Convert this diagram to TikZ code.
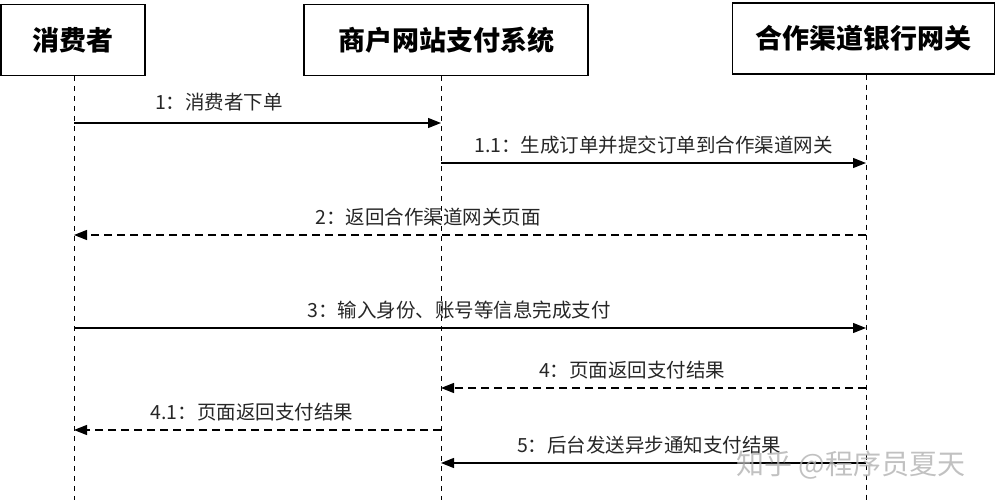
\documentclass[tikz,border=0pt]{standalone}
\usepackage{fontspec}
\usepackage{xcolor}
\usepackage{tikz}
\usetikzlibrary{calc,positioning,arrows.meta}
\newfontfamily\cjk{Noto Sans CJK SC}

\begin{document}
\begin{tikzpicture}[x=1pt,y=1pt,
		actor/.style={draw,line width=1.4pt,minimum height=71pt,inner sep=0pt,font=\cjk\bfseries\fontsize{27}{30}\selectfont},
		life/.style={line width=0.8pt,dash pattern=on 5pt off 5pt},
		msg/.style={line width=1.3pt,-{Triangle[length=13pt,width=10pt]}},
		ret/.style={msg,dash pattern=on 8pt off 5pt},
		lbl/.style={font=\cjk\fontsize{19.5}{22}\selectfont,text=black!85,inner sep=1pt,above=7pt}]
		\useasboundingbox (0,0) rectangle (995,-500);
		% participants
		\node[actor,minimum width=144pt] (user) at (73,-40) {消费者};
		\node[actor,minimum width=284pt] (shop) at (446,-40) {商户网站支付系统};
		\node[actor,minimum width=262pt] (gate) at (863.5,-38.5) {合作渠道银行网关};
		% lifelines
		\coordinate (uend) at (74,-500);
		\coordinate (send) at (441,-500);
		\coordinate (gend) at (866,-500);
		\draw[life] (user.south -| uend) -- (uend);
		\draw[life] (shop.south -| send) -- (send);
		\draw[life] (gate.south -| gend) -- (gend);
		\foreach \n/\y in {1/123,11/163,2/235,3/328,4/388,41/430,5/463} {
			\coordinate (u\n) at (74,-\y);
			\coordinate (s\n) at (441,-\y);
			\coordinate (g\n) at (866,-\y);
		};
		% messages
		\draw[msg] (u1) -- node[lbl,pos=0.395,yshift=3pt] (m1) {1：消费者下单} (s1);
		\draw[msg] (s11) -- node[lbl,pos=0.5] (m11) {1.1：生成订单并提交订单到合作渠道网关} (g11);
		\draw[ret] (g2) -- node[lbl,pos=0.553] (m2) {2：返回合作渠道网关页面} (u2);
		\draw[msg] (u3) -- node[lbl,pos=0.486] (m3) {3：输入身份、账号等信息完成支付} (g3);
		\draw[ret] (g4) -- node[lbl,pos=0.55] (m4) {4：页面返回支付结果} (s4);
		\draw[ret] (s41) -- node[lbl,pos=0.515] (m41) {4.1：页面返回支付结果} (u41);
		\draw[msg] (g5) -- node[lbl,pos=0.51] (m5) {5：后台发送异步通知支付结果} (s5);
		% watermark
		\node[font=\cjk\fontsize{28}{30}\selectfont,text=black!30,opacity=0.8] (wm) at (851,-465) {知乎 @程序员夏天};
	\end{tikzpicture}
\end{document}
